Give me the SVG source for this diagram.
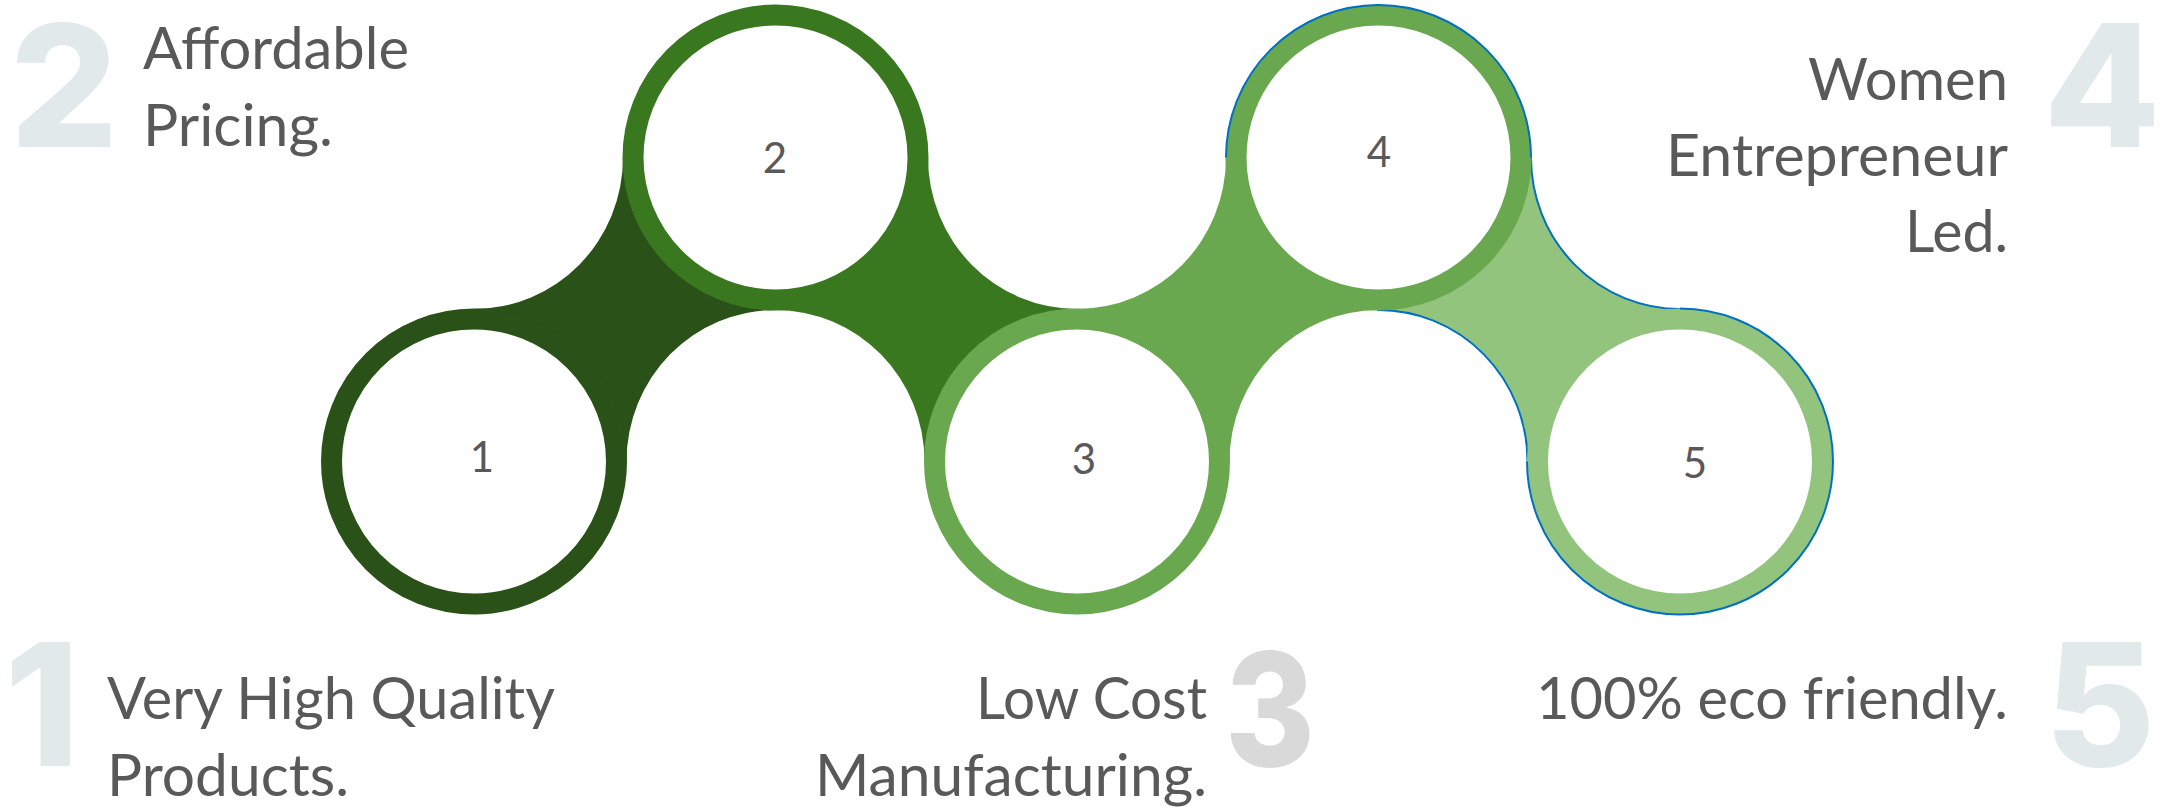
<svg xmlns="http://www.w3.org/2000/svg" width="2183" height="808" viewBox="0 0 2183 808">
<style>
  .desc { font-family: Lato, "Open Sans", "Liberation Sans", sans-serif; font-size: 59px; fill: #595959; }
  .big { font-family: Inter, "Open Sans", "Liberation Sans", sans-serif; font-weight: 800; font-size: 170px; fill: #E2E9EB; text-anchor: middle; }
  .lbl { font-family: Lato, "Open Sans", "Liberation Sans", sans-serif; font-size: 42px; fill: #595959; text-anchor: middle; }
  .ring { fill: #ffffff; stroke-width: 21; }
  .blue { fill: none; stroke: #0070C0; stroke-width: 2; }
</style>
<rect x="0" y="0" width="2183" height="808" fill="#ffffff"/>
<g id="connectors">
  <path id="c12" fill="#2A5117" d="M474,309 A149,151.5 0 0 0 623,157.5 L775.5,157.5 L775.5,310 A149,151.5 0 0 0 626.5,461.5 L474,461.5 Z"/>
  <path id="c23" fill="#3A7820" d="M928,157.5 A149,151.5 0 0 0 1077,309 L1077,461.5 L924.5,461.5 A149,151.5 0 0 0 775.5,310 L775.5,157.5 Z"/>
  <path id="c34" fill="#6AA84F" d="M1077,309 A149,151.5 0 0 0 1226,157.5 L1378.5,157.5 L1378.5,310 A149,151.5 0 0 0 1229.5,461.5 L1077,461.5 Z"/>
  <path id="c45" fill="#93C47D" stroke="#0070C0" stroke-width="2" d="M1531,157.5 A149,151.5 0 0 0 1680,309 L1680,461.5 L1527.5,461.5 A149,151.5 0 0 0 1378.5,310 L1378.5,157.5 Z"/>
</g>
<g id="node-1">
  <circle class="ring" cx="474" cy="461.5" r="142.5" stroke="#2A5117"/>
  <text class="lbl" x="482" y="472">1</text>
  <text class="big" x="42" y="766">1</text>
  <text class="desc" x="107" y="718.5" textLength="448" lengthAdjust="spacingAndGlyphs">Very High Quality</text>
  <text class="desc" x="107" y="796" textLength="242" lengthAdjust="spacingAndGlyphs">Products.</text>
</g>
<g id="node-2">
  <circle class="ring" cx="775.5" cy="157.5" r="142.5" stroke="#3A7820"/>
  <text class="lbl" x="775" y="173">2</text>
  <text class="big" x="64" y="147">2</text>
  <text class="desc" x="143" y="68.5" textLength="266" lengthAdjust="spacingAndGlyphs">Affordable</text>
  <text class="desc" x="143" y="146" textLength="190" lengthAdjust="spacingAndGlyphs">Pricing.</text>
</g>
<g id="node-3">
  <circle class="ring" cx="1077" cy="461.5" r="142.5" stroke="#6AA84F"/>
  <text class="lbl" x="1084" y="474">3</text>
  <text class="big" x="1270" y="766" style="fill:#D9D9D9;font-size:158px" textLength="90" lengthAdjust="spacingAndGlyphs">3</text>
  <text class="desc" x="1207" y="718.5" text-anchor="end" textLength="231" lengthAdjust="spacingAndGlyphs">Low Cost</text>
  <text class="desc" x="1207" y="796" text-anchor="end" textLength="392" lengthAdjust="spacingAndGlyphs">Manufacturing.</text>
</g>
<g id="node-4">
  <circle class="ring" cx="1378.5" cy="157.5" r="142.5" stroke="#6AA84F"/>
  <path class="blue" d="M1226,157.5 A152.5,152.5 0 0 1 1531,157.5"/>
  <text class="lbl" x="1379" y="167">4</text>
  <text class="big" x="2102" y="147">4</text>
  <text class="desc" x="2008" y="100" text-anchor="end" textLength="200" lengthAdjust="spacingAndGlyphs">Women</text>
  <text class="desc" x="2008" y="176" text-anchor="end" textLength="342" lengthAdjust="spacingAndGlyphs">Entrepreneur</text>
  <text class="desc" x="2008" y="252" text-anchor="end" textLength="103" lengthAdjust="spacingAndGlyphs">Led.</text>
</g>
<g id="node-5">
  <circle class="ring" cx="1680" cy="461.5" r="142.5" stroke="#93C47D"/>
  <path class="blue" d="M1680,308.5 A153,153 0 1 1 1527,461.5"/>
  <text class="lbl" x="1695" y="478">5</text>
  <text class="big" x="2100" y="766">5</text>
  <text class="desc" x="2008" y="718.5" text-anchor="end" textLength="472" lengthAdjust="spacingAndGlyphs">100% eco friendly.</text>
</g>
</svg>
